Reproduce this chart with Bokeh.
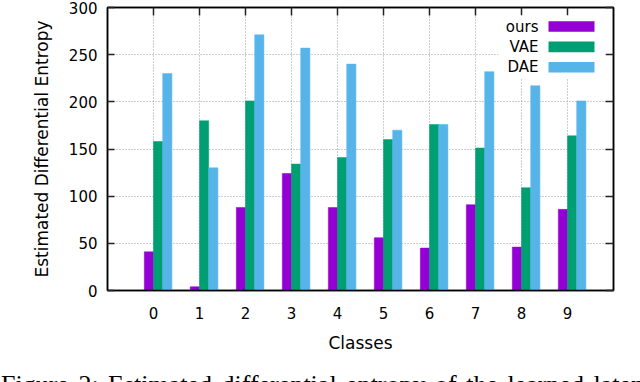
from bokeh.plotting import figure
from bokeh.models import (FixedTicker, LinearAxis, Range1d, ColumnDataSource,
                          BoxAnnotation, Label, Div)
from bokeh.layouts import column
from bokeh.transform import dodge
from bokeh.embed import file_html
from bokeh.resources import INLINE

# ---- data ----
classes = [0, 1, 2, 3, 4, 5, 6, 7, 8, 9]
ours = [41, 4, 88, 124, 88, 56, 45, 91, 46, 86]
vae = [158, 180, 201, 134, 141, 160, 176, 151, 109, 164]
dae = [230, 130, 271, 257, 240, 170, 176, 232, 217, 201]
series_names = ["ours", "VAE", "DAE"]
series_keys = ["ours", "vae", "dae"]
series_colors = ["#9400D3", "#009E73", "#56B4E9"]
y_ticks = [0, 50, 100, 150, 200, 250, 300]
x_label = "Classes"
y_label = "Estimated Differential Entropy"
caption = "Figure 2: Estimated differential entropy of the learned latent codes."

FONT = "DejaVu Sans"
W, H = 640, 366
BL, BR, BT, BB = 107, 27, 7, 76
FW, FH = W - BL - BR, H - BT - BB

p = figure(width=W, height=H, x_range=Range1d(-1, 10), y_range=Range1d(0, 300),
           output_backend="svg", toolbar_location=None,
           min_border_left=BL, min_border_right=BR, min_border_top=BT, min_border_bottom=BB)
p.background_fill_color = "white"
p.border_fill_color = "white"
p.outline_line_color = "black"
p.outline_line_width = 1.5

source = ColumnDataSource(dict(x=classes, ours=ours, vae=vae, dae=dae))
offsets = [-0.1, 0.1, 0.3]
for key, off, color in zip(series_keys, offsets, series_colors):
    p.vbar(x=dodge("x", off, range=p.x_range), top=key, width=0.2, source=source,
           fill_color=color, line_color=color, line_width=0.5)

# axes
def style_axis(ax, tick_in):
    ax.axis_line_color = "black"
    ax.axis_line_width = 1.5
    ax.major_tick_in = tick_in
    ax.major_tick_out = 0
    ax.major_tick_line_color = "#222222"
    ax.major_tick_line_width = 1.5
    ax.minor_tick_in = 0
    ax.minor_tick_out = 0
    ax.major_label_text_font = FONT
    ax.major_label_text_font_size = "15px"
    ax.major_label_text_color = "black"
    ax.axis_label_text_font = FONT
    ax.axis_label_text_font_size = "17px"
    ax.axis_label_text_font_style = "normal"
    ax.axis_label_text_color = "black"

xax = p.xaxis[0]
yax = p.yaxis[0]
xax.ticker = FixedTicker(ticks=classes)
yax.ticker = FixedTicker(ticks=y_ticks)
style_axis(xax, 0)
style_axis(yax, 7)
xax.axis_label = x_label
yax.axis_label = y_label
xax.major_label_standoff = 16
xax.axis_label_standoff = 11
yax.major_label_standoff = 10
yax.axis_label_standoff = 14

top = LinearAxis(ticker=FixedTicker(ticks=classes))
right = LinearAxis(ticker=FixedTicker(ticks=y_ticks))
for ax in (top, right):
    style_axis(ax, 8)
    ax.major_label_text_font_size = "0px"
    ax.major_label_standoff = 0
    ax.major_label_text_alpha = 0
p.add_layout(top, "above")
p.add_layout(right, "right")

# grid
p.xgrid.ticker = FixedTicker(ticks=classes)
p.ygrid.ticker = FixedTicker(ticks=y_ticks)
for g in (p.xgrid[0], p.ygrid[0]):
    g.grid_line_color = "#9a9a9a"
    g.grid_line_dash = "1 2"
    g.grid_line_width = 1

# legend (gnuplot style: label then swatch), in screen units relative to frame
p.add_layout(BoxAnnotation(left=391, right=498, top=FH - 8, bottom=FH - 71,
                           left_units="screen", right_units="screen",
                           top_units="screen", bottom_units="screen",
                           fill_color="white", fill_alpha=1.0, line_color=None))
for i, (name, color) in enumerate(zip(series_names, series_colors)):
    cy = FH - 19 - i * 20.4
    p.add_layout(Label(x=431, y=cy, x_units="screen", y_units="screen", text=name,
                       text_align="right", text_baseline="middle",
                       text_font=FONT, text_font_size="15px", text_color="black"))
    p.add_layout(BoxAnnotation(left=441, right=487, top=cy + 5.3, bottom=cy - 5.3,
                               left_units="screen", right_units="screen",
                               top_units="screen", bottom_units="screen",
                               fill_color=color, fill_alpha=1.0, line_color=None))

# caption strip (only the top of the caption line is visible, as in the reference)
cap = Div(
    text=('<div style="font-family: \'Liberation Serif\'; font-size: 26px; '
          'line-height: 30px; white-space: nowrap; margin: 0; padding: 4px 0 0 1px; '
          'word-spacing: 3px; color: black;">' + caption + '</div>'),
    width=640, height=16, styles={"overflow": "hidden", "margin": "0"},
)

layout = column(p, cap, spacing=0)
open("out.html", "w").write(file_html(layout, INLINE))
